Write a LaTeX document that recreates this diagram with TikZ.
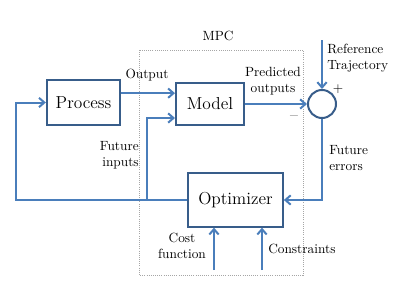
\documentclass[tikz,border=0pt]{standalone}
\usepackage{tikz}
\usetikzlibrary{arrows.meta,calc}
\definecolor{mpcline}{RGB}{74,126,187}
\definecolor{mpcedge}{RGB}{56,93,138}

\begin{document}
\begin{tikzpicture}[x=0.75pt,y=-0.75pt,>={Straight Barb[length=4pt,width=7pt]},
    blk/.style={draw=mpcedge,line width=1.5pt,fill=white,font=\fontsize{13}{15}\selectfont},
    flow/.style={->,draw=mpcline,line width=1.5pt},
    wire/.style={draw=mpcline,line width=1.5pt},
    lbl/.style={font=\normalsize,align=center,inner sep=0pt}]
  \useasboundingbox (0,0) rectangle (400,300);
  % controller frame
  \draw[densely dotted,gray!70,line width=0.6pt] (139,50) rectangle (303,275);
  \node[lbl] (mpc) at (218,36) {MPC};
  % blocks
  \node[blk,minimum width=55pt,minimum height=34pt] (process) at (83.5,102.5) {Process};
  \node[blk,minimum width=51pt,minimum height=31.5pt] (model) at (210,104) {Model};
  \node[blk,minimum width=71pt,minimum height=40pt] (opt) at (235.5,200) {Optimizer};
  \node[draw=mpcedge,line width=1.5pt,circle,minimum size=21pt,inner sep=0pt] (sum) at (322,104) {};
  % helper points
  \coordinate (outp) at ([yshift=7pt]process.east);
  \coordinate (fin) at ([yshift=-10.5pt]model.west);
  \coordinate (tap) at (147,200);
  \coordinate (back) at (16,200);
  \coordinate (ref) at (322,40);
  \coordinate (cost) at (214,270);
  \coordinate (cons) at (262,270);
  % signals
  \draw[flow] (outp) -- (outp -| model.west);
  \draw[flow] (model.east) -- (sum.west);
  \draw[flow] (ref) -- (sum.north);
  \draw[flow] (sum.south) |- (opt.east);
  \draw[wire] (opt.west) -- (tap);
  \draw[flow] (tap) |- (fin);
  \draw[flow] (tap) -- (back) |- (process.west);
  \draw[flow] (cost) -- (cost |- opt.south);
  \draw[flow] (cons) -- (cons |- opt.south);
  % labels
  \node[lbl] (lout) at (147,75) {Output};
  \node[lbl] (lpred) at (273,81) {Predicted\\outputs};
  \node[lbl,anchor=west,align=left] (lref) at (327,58) {Reference\\Trajectory};
  \node[lbl] (lplus) at (338,89) {$+$};
  \node[lbl,text=gray] (lminus) at (294,116) {$-$};
  \node[lbl,anchor=west,align=left] (lerr) at (329,158) {Future\\errors};
  \node[lbl,anchor=east,align=right] (lin) at (139,155) {Future\\inputs};
  \node[lbl] (lcost) at (182,246) {Cost\\function};
  \node[lbl,anchor=west] (lcons) at (268,249) {Constraints};
\end{tikzpicture}
\end{document}
